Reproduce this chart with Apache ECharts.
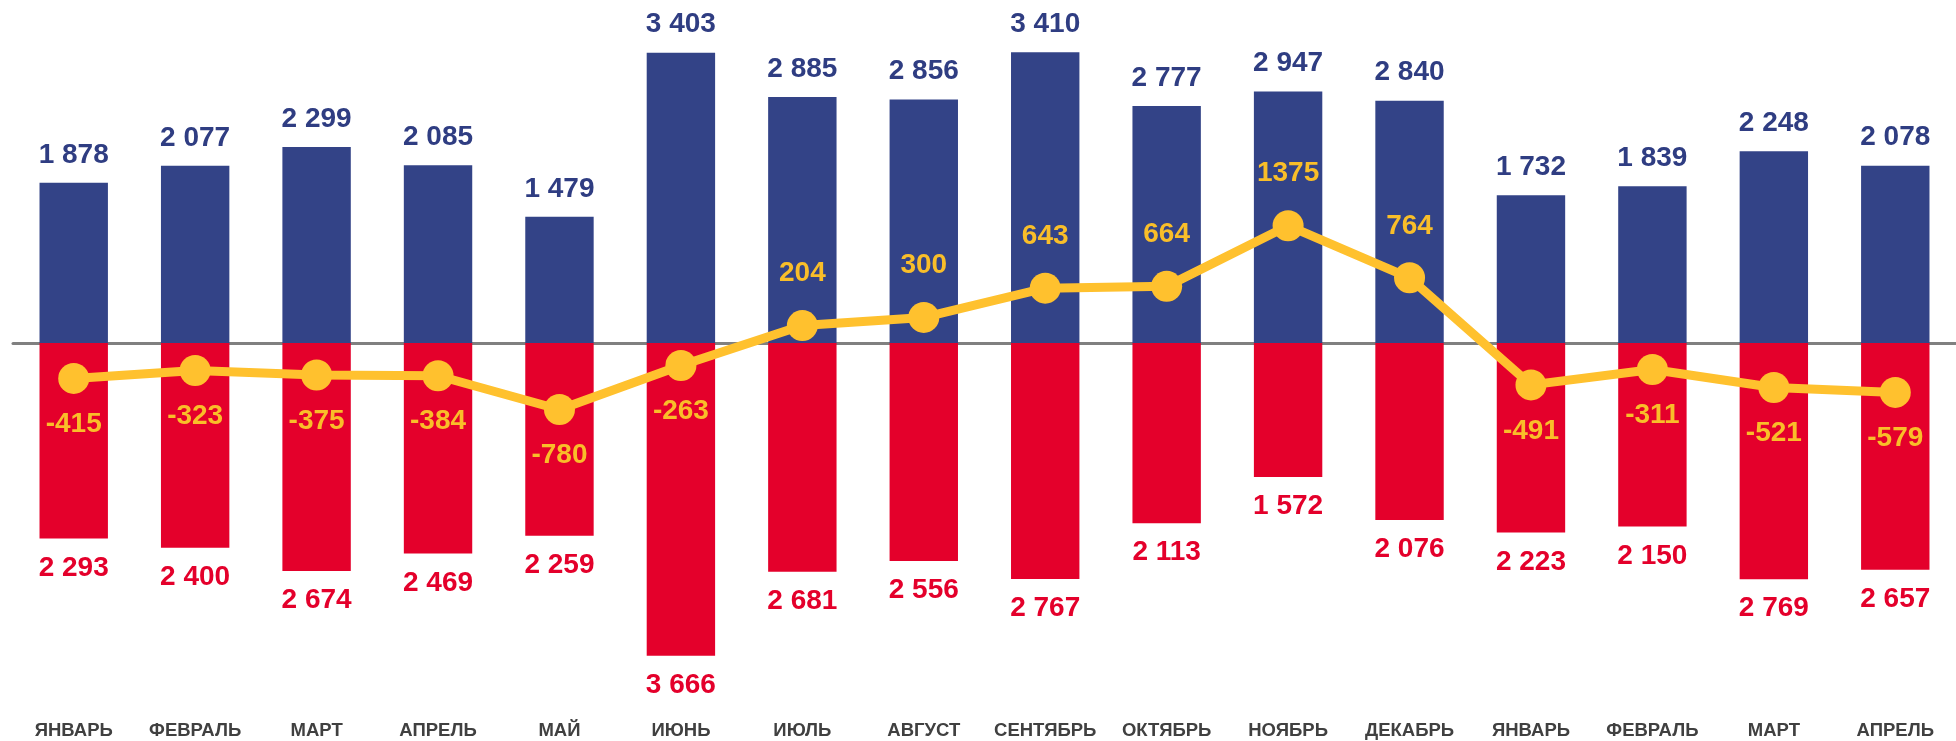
<!DOCTYPE html>
<html>
<head>
<meta charset="utf-8">
<script src="https://cdn.jsdelivr.net/npm/echarts@6/dist/echarts.min.js"></script>
<style>
    html, body { margin: 0; padding: 0; background: #fff; }
    #chart-container { width: 1956px; height: 741px; }
</style>
</head>
<body>
<div id="chart-container"></div>
<script>
var months = ['ЯНВАРЬ', 'ФЕВРАЛЬ', 'МАРТ', 'АПРЕЛЬ', 'МАЙ', 'ИЮНЬ', 'ИЮЛЬ', 'АВГУСТ',
    'СЕНТЯБРЬ', 'ОКТЯБРЬ', 'НОЯБРЬ', 'ДЕКАБРЬ', 'ЯНВАРЬ', 'ФЕВРАЛЬ', 'МАРТ', 'АПРЕЛЬ'];
var incomeValues = [1878, 2077, 2299, 2085, 1479, 3403, 2885, 2856, 3410, 2777, 2947, 2840, 1732, 1839, 2248, 2078];
var outflowValues = [-2293, -2400, -2674, -2469, -2259, -3666, -2681, -2556, -2767, -2113, -1572, -2076, -2223, -2150, -2769, -2657];
var balanceValues = [-415, -323, -375, -384, -780, -263, 204, 300, 643, 664, 1375, 764, -491, -311, -521, -579];

var fontFamily = '"Liberation Sans", Arial, sans-serif';

function formatThousands(v) {
    return String(Math.abs(v)).replace(/\B(?=(\d{3})+(?!\d))/g, ' ');
}

var dom = document.getElementById('chart-container');
var balanceChart = echarts.init(dom, null, { renderer: 'canvas' });

var option = {
    animation: false,
    grid: { left: 13, right: -8, top: 1.8, bottom: 56.8 },
    xAxis: [
        {
            type: 'category',
            data: months,
            axisLine: { onZero: true, lineStyle: { color: '#808080', width: 3 } },
            axisTick: { show: false },
            axisLabel: { show: false }
        },
        {
            type: 'category',
            data: months,
            position: 'bottom',
            axisLine: { show: false },
            axisTick: { show: false },
            axisLabel: {
                interval: 0,
                margin: 37,
                color: '#404040',
                fontSize: 18.5,
                fontWeight: 'bold',
                fontFamily: fontFamily
            }
        }
    ],
    yAxis: {
        type: 'value',
        min: -4000,
        max: 4000,
        interval: 1000,
        show: false,
        splitLine: { show: false }
    },
    series: [
        {
            name: 'income',
            type: 'bar',
            stack: 'total',
            barWidth: 68.4,
            data: incomeValues,
            itemStyle: { color: '#334387' },
            label: {
                show: true,
                position: 'top',
                distance: 14,
                color: '#2f3d82',
                fontSize: 28,
                fontWeight: 'bold',
                fontFamily: fontFamily,
                formatter: function (p) { return formatThousands(p.value); }
            }
        },
        {
            name: 'outflow',
            type: 'bar',
            stack: 'total',
            barWidth: 68.4,
            data: outflowValues,
            itemStyle: { color: '#e4002b' },
            label: {
                show: true,
                position: 'bottom',
                distance: 15.5,
                color: '#e4002b',
                fontSize: 28,
                fontWeight: 'bold',
                fontFamily: fontFamily,
                formatter: function (p) { return formatThousands(p.value); }
            }
        },
        {
            name: 'balance',
            type: 'line',
            z: 5,
            symbol: 'circle',
            symbolSize: 31,
            data: balanceValues.map(function (v) {
                return {
                    value: v,
                    label: v >= 0 ? { position: 'top', distance: 22.5 } : { position: 'bottom', distance: 16.5 }
                };
            }),
            lineStyle: { color: '#ffc12e', width: 9 },
            itemStyle: { color: '#ffc12e' },
            label: {
                show: true,
                color: '#f9be29',
                fontSize: 28,
                fontWeight: 'bold',
                fontFamily: fontFamily
            }
        }
    ]
};

balanceChart.setOption(option);
window.addEventListener('resize', balanceChart.resize);
</script>
</body>
</html>
